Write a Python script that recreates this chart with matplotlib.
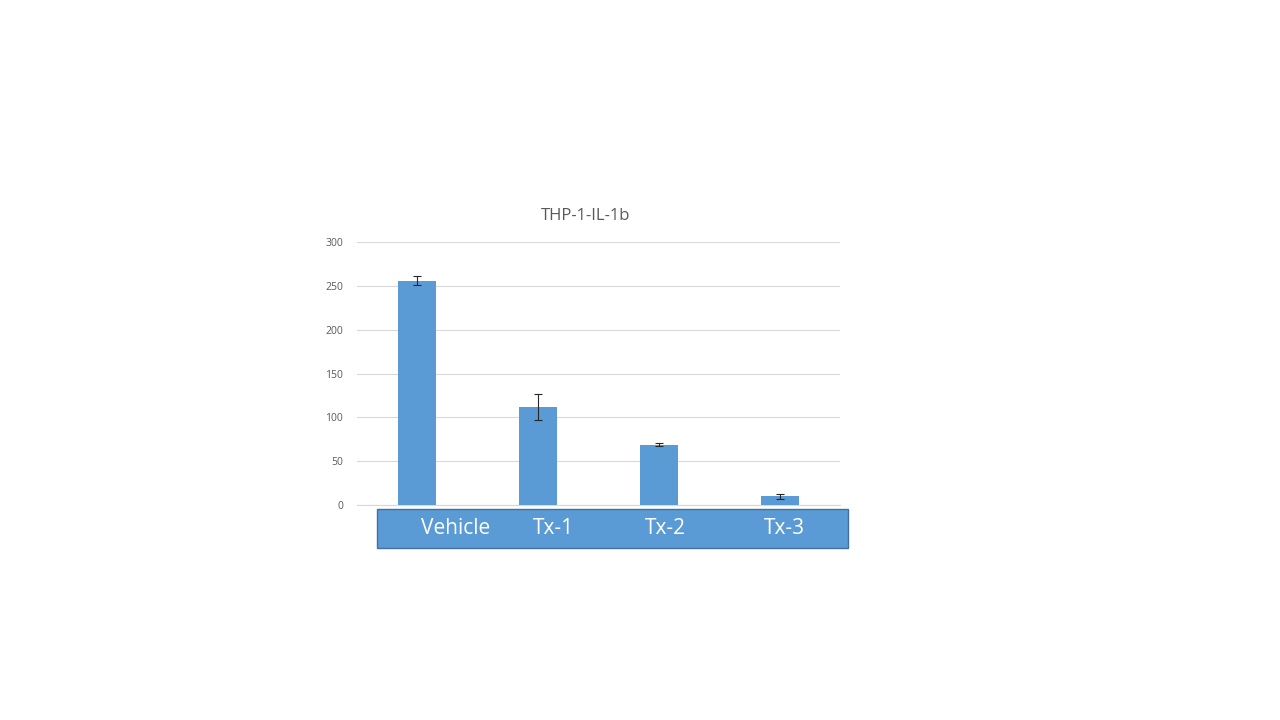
import matplotlib
matplotlib.use("Agg")
import matplotlib.pyplot as plt
from matplotlib.patches import Rectangle
from matplotlib.transforms import blended_transform_factory

# data
groups = ["Vehicle", "Tx-1", "Tx-2", "Tx-3"]
means = [256, 112, 69, 10]
errs = [5, 15, 2, 3]
yticks = [0, 50, 100, 150, 200, 250, 300]

plt.rcParams['font.family'] = ['Open Sans', 'DejaVu Sans']

fig = plt.figure(figsize=(12.8, 7.2), dpi=100)
ax = fig.add_axes([357 / 1280, 1 - 505 / 720, 483 / 1280, 263 / 720])

x = list(range(len(groups)))
ax.bar(x, means, width=0.315, color="#5B9BD5", zorder=3)
ax.errorbar(x, means, yerr=errs, fmt="none", ecolor="#262626",
            elinewidth=0.8, capsize=3, capthick=0.8, zorder=4)

ax.set_xlim(-0.5, len(groups) - 0.5)
ax.set_ylim(0, 300)
ax.set_yticks(yticks)
ax.set_xticks([])
ax.yaxis.grid(True, color="#D9D9D9", linewidth=0.8, zorder=0)
for s in ["top", "right", "left"]:
    ax.spines[s].set_visible(False)
ax.spines["bottom"].set_color("#D9D9D9")
ax.tick_params(axis="y", length=0, labelsize=7.5, labelcolor="#595959", pad=10)
ax.set_title("THP-1-IL-1b", fontsize=12, color="#595959", pad=16, x=0.474)

# blue label band under the axis
fig.patches.append(Rectangle((377 / 1280, 1 - 548 / 720), 471 / 1280, 39 / 720,
                             transform=fig.transFigure, facecolor="#5B9BD5",
                             edgecolor="#41719C", linewidth=1))
shift = [0.32, 0.13, 0.05, 0.04]
tr = blended_transform_factory(ax.transData, fig.transFigure)
for i, g in enumerate(groups):
    fig.text(i + shift[i], 1 - 529 / 720, g, transform=tr, ha="center",
             va="center", color="white", fontsize=15)

fig.savefig("out.png", dpi=100)
